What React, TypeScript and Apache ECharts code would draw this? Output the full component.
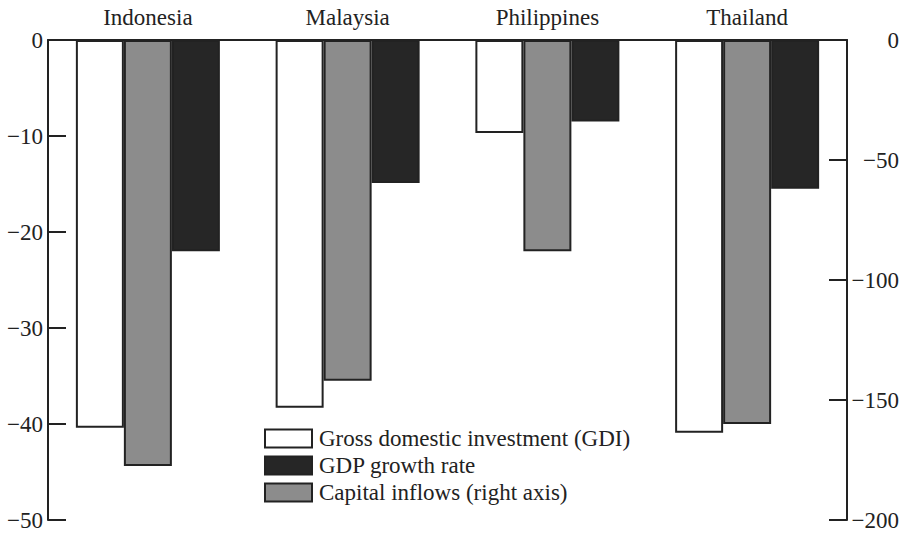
import React, { useEffect, useRef } from "react";
import * as echarts from "echarts";

const categories = ["Indonesia", "Malaysia", "Philippines", "Thailand"];
const gdiValues = [-40.4, -38.3, -9.7, -40.9];
const capitalInflows = [-177.5, -142, -88, -160];
const gdpGrowth = [-22, -14.9, -8.5, -15.5];
const leftTicks = { min: -50, max: 0, interval: 10 };
const rightTicks = { min: -200, max: 0, interval: 50 };

const FONT = "'Liberation Serif', 'Times New Roman', serif";
const INK = "#222";

const fmt = (v: number) => String(v).replace("-", "\u2212");

export default function App() {
  const ref = useRef<HTMLDivElement>(null);
  useEffect(() => {
    if (!ref.current) return;
    const chart = echarts.init(ref.current, undefined, { renderer: "svg" });
    const border = { borderColor: INK, borderWidth: 2 };
    chart.setOption({
      animation: false,
      backgroundColor: "#fff",
      textStyle: { fontFamily: FONT, color: INK },
      grid: { left: 48, right: 59, top: 40, bottom: 13, containLabel: false },
      legend: {
        orient: "vertical",
        left: 259,
        top: 422,
        itemWidth: 47,
        itemHeight: 18,
        itemGap: 4,
        icon: "rect",
        data: ["Gross domestic investment (GDI)", "GDP growth rate", "Capital inflows (right axis)"],
        textStyle: { fontFamily: FONT, fontSize: 23, color: INK, lineHeight: 19, padding: [0, 0, 0, 2] },
      },
      xAxis: {
        type: "category",
        position: "top",
        data: categories,
        axisLine: { show: true, lineStyle: { color: INK, width: 2 } },
        axisTick: { show: false },
        axisLabel: { fontFamily: FONT, fontSize: 23, color: INK, margin: 11 },
        splitLine: { show: false },
      },
      yAxis: [
        {
          type: "value",
          position: "left",
          ...leftTicks,
          axisLine: { show: true, lineStyle: { color: INK, width: 2 } },
          axisTick: { show: true, inside: true, length: 18, lineStyle: { color: INK, width: 2 } },
          axisLabel: { fontFamily: FONT, fontSize: 23, color: INK, margin: 5, formatter: fmt },
          splitLine: { show: false },
        },
        {
          type: "value",
          position: "right",
          ...rightTicks,
          axisLine: { show: true, lineStyle: { color: INK, width: 2 } },
          axisTick: { show: true, inside: true, length: 18, lineStyle: { color: INK, width: 2 } },
          axisLabel: { fontFamily: FONT, fontSize: 23, color: INK, margin: 52, align: "right", formatter: fmt },
          splitLine: { show: false },
        },
      ],
      series: [
        {
          name: "Gross domestic investment (GDI)",
          type: "bar",
          yAxisIndex: 0,
          data: gdiValues,
          barWidth: 48,
          barGap: "0%",
          itemStyle: { color: "#fff", ...border },
        },
        {
          name: "Capital inflows (right axis)",
          type: "bar",
          yAxisIndex: 1,
          data: capitalInflows,
          barWidth: 48,
          barGap: "0%",
          itemStyle: { color: "#8c8c8c", ...border },
        },
        {
          name: "GDP growth rate",
          type: "bar",
          yAxisIndex: 0,
          data: gdpGrowth,
          barWidth: 48,
          barGap: "0%",
          itemStyle: { color: "#262626", ...border },
        },
      ],
    });
    return () => chart.dispose();
  }, []);
  return <div ref={ref} style={{ position: "absolute", left: 0, top: 0, width: 906, height: 533 }} />;
}
